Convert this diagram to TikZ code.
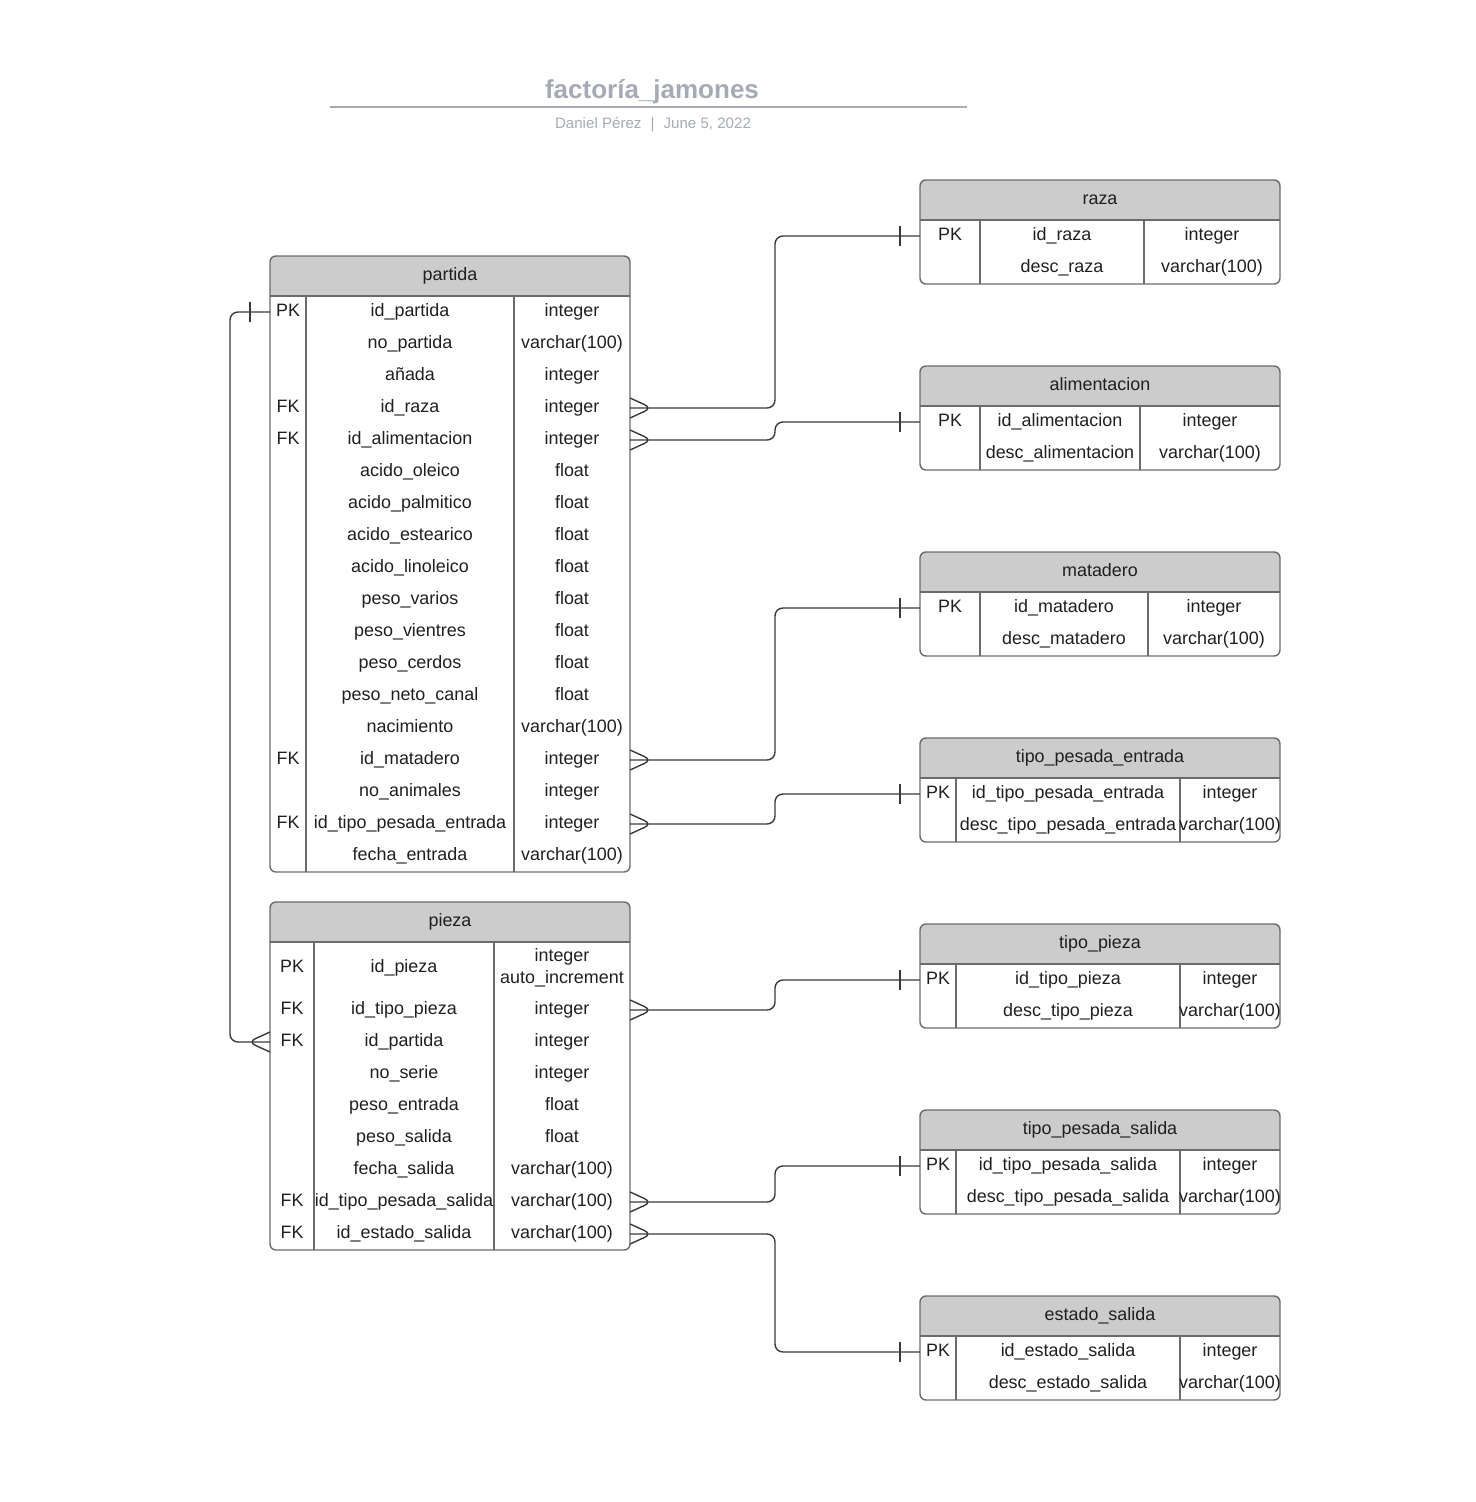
\documentclass[tikz,border=0pt]{standalone}
\usepackage{fontspec}
\setmainfont{Liberation Sans}
\usetikzlibrary{positioning,calc}
\definecolor{tabgray}{HTML}{6B6B6B}
\definecolor{hdrgray}{HTML}{CCCCCC}
\definecolor{linkgray}{HTML}{3A3A3A}
\definecolor{txt}{HTML}{1F1F1F}
\definecolor{titlegray}{HTML}{A5AAB4}
\tikzset{tab/.style={draw=tabgray,line width=0.8pt,rounded corners=3.4pt},
         hdr/.style={fill=hdrgray,rounded corners=3.4pt},
         cell/.style={font=\fontsize{10.2}{12.5}\selectfont,text=txt,inner sep=0pt,
                      text height=0.8em,text depth=0.25em,align=center},
         link/.style={draw=linkgray,line width=0.8pt,rounded corners=4.5pt},
         crowfoot/.pic={\draw[link] (0,-10) -- (22,0) -- (0,10);},
         onebar/.pic={\draw[link] (0,-10) -- (0,10);}
}
% name, title, x, y, height, div1, div2
\newcommand{\ertab}[7]{%
  \begin{scope}
    \clip (#3,#4) rectangle ++(360,40);
    \fill[hdr] (#3,#4) rectangle ++(360,#5);
  \end{scope}
  \draw[tab] (#3,#4) rectangle ++(360,#5);
  \draw[tab] (#3,{#4+40}) -- ++(360,0);
  \draw[tab] ({#3+#6},{#4+40}) -- ({#3+#6},{#4+#5});
  \draw[tab] ({#3+#7},{#4+40}) -- ({#3+#7},{#4+#5});
  \node[cell] (#1) at ({#3+180},{#4+20}) {#2};
  \coordinate (#1-w) at (#3,#4);
  \coordinate (#1-e) at ({#3+360},#4);
  \coordinate (#1-ck) at ({#3+#6/2},0);
  \coordinate (#1-cn) at ({#3+(#6+#7)/2},0);
  \coordinate (#1-ct) at ({#3+(#7+360)/2},0);
}
% name, y of first row, rows
\newcommand{\errows}[3]{%
  \foreach \ky/\nm/\ty [count=\i] in {#3} {
    \node[cell] (#1-k\i) at ($(#1-ck)+(0,{#2+32*(\i-1)})$) {\ky};
    \node[cell] (#1-n\i) at ($(#1-cn)+(0,{#2+32*(\i-1)})$) {\nm};
    \node[cell] (#1-t\i) at ($(#1-ct)+(0,{#2+32*(\i-1)})$) {\ty};
  }
}
\begin{document}
\begin{tikzpicture}[x=0.02cm,y=-0.02cm]
\useasboundingbox (0,0) rectangle (1475,1502);

\node[font=\bfseries\fontsize{14.8}{17}\selectfont,text=titlegray] (titulo) at (652,92) {factoría\_jamones};
\draw[titlegray,line width=1.1pt] (330,107) -- (967,107);
\node[font=\fontsize{8.6}{10}\selectfont,text=titlegray] (autor) at (653,125) {Daniel Pérez\hspace{0.6em}|\hspace{0.6em}June 5, 2022};

\ertab{partida}{partida}{270}{256}{616}{36}{244}
\errows{partida}{312}{PK/id\_partida/integer, {}/no\_partida/varchar(100), {}/añada/integer,
  FK/id\_raza/integer, FK/id\_alimentacion/integer, {}/acido\_oleico/float,
  {}/acido\_palmitico/float, {}/acido\_estearico/float, {}/acido\_linoleico/float,
  {}/peso\_varios/float, {}/peso\_vientres/float, {}/peso\_cerdos/float,
  {}/peso\_neto\_canal/float, {}/nacimiento/varchar(100), FK/id\_matadero/integer,
  {}/no\_animales/integer, FK/id\_tipo\_pesada\_entrada/integer, {}/fecha\_entrada/varchar(100)}

\ertab{pieza}{pieza}{270}{902}{348}{44}{224}
\node[cell] (pieza-k0) at ($(pieza-ck)+(0,968)$) {PK};
\node[cell] (pieza-n0) at ($(pieza-cn)+(0,968)$) {id\_pieza};
\node[cell,text height=,text depth=] (pieza-t0) at ($(pieza-ct)+(0,968)$) {integer\\auto\_increment};
\errows{pieza}{1010}{FK/id\_tipo\_pieza/integer, FK/id\_partida/integer, {}/no\_serie/integer,
  {}/peso\_entrada/float, {}/peso\_salida/float, {}/fecha\_salida/varchar(100),
  FK/id\_tipo\_pesada\_salida/varchar(100), FK/id\_estado\_salida/varchar(100)}

\ertab{raza}{raza}{920}{180}{104}{60}{224}
\errows{raza}{236}{PK/id\_raza/integer, {}/desc\_raza/varchar(100)}
\ertab{alimentacion}{alimentacion}{920}{366}{104}{60}{220}
\errows{alimentacion}{422}{PK/id\_alimentacion/integer, {}/desc\_alimentacion/varchar(100)}
\ertab{matadero}{matadero}{920}{552}{104}{60}{228}
\errows{matadero}{608}{PK/id\_matadero/integer, {}/desc\_matadero/varchar(100)}
\ertab{pesadaentrada}{tipo\_pesada\_entrada}{920}{738}{104}{36}{260}
\errows{pesadaentrada}{794}{PK/id\_tipo\_pesada\_entrada/integer, {}/desc\_tipo\_pesada\_entrada/varchar(100)}
\ertab{tipopieza}{tipo\_pieza}{920}{924}{104}{36}{260}
\errows{tipopieza}{980}{PK/id\_tipo\_pieza/integer, {}/desc\_tipo\_pieza/varchar(100)}
\ertab{pesadasalida}{tipo\_pesada\_salida}{920}{1110}{104}{36}{260}
\errows{pesadasalida}{1166}{PK/id\_tipo\_pesada\_salida/integer, {}/desc\_tipo\_pesada\_salida/varchar(100)}
\ertab{estadosalida}{estado\_salida}{920}{1296}{104}{36}{260}
\errows{estadosalida}{1352}{PK/id\_estado\_salida/integer, {}/desc\_estado\_salida/varchar(100)}

\foreach \src/\fk/\dst in {partida/4/raza, partida/5/alimentacion, partida/15/matadero,
    partida/17/pesadaentrada, pieza/1/tipopieza, pieza/7/pesadasalida, pieza/8/estadosalida} {
  \coordinate (m) at (\src-e |- \src-t\fk);
  \coordinate (o) at (\dst-w |- \dst-t1);
  \coordinate (b) at ($(m)!.5!(o)$);
  \draw[link] (m) -| (b |- o) -- (o);
  \pic at (m) {crowfoot};
  \pic at ($(o)+(-20,0)$) {onebar};
}

\draw[link] (partida-w |- partida-k1) -- ++(-40,0) |- (pieza-w |- pieza-k2);
\pic at ($(partida-w |- partida-k1)+(-20,0)$) {onebar};
\pic[xscale=-1] at (pieza-w |- pieza-k2) {crowfoot};

\end{tikzpicture}
\end{document}
